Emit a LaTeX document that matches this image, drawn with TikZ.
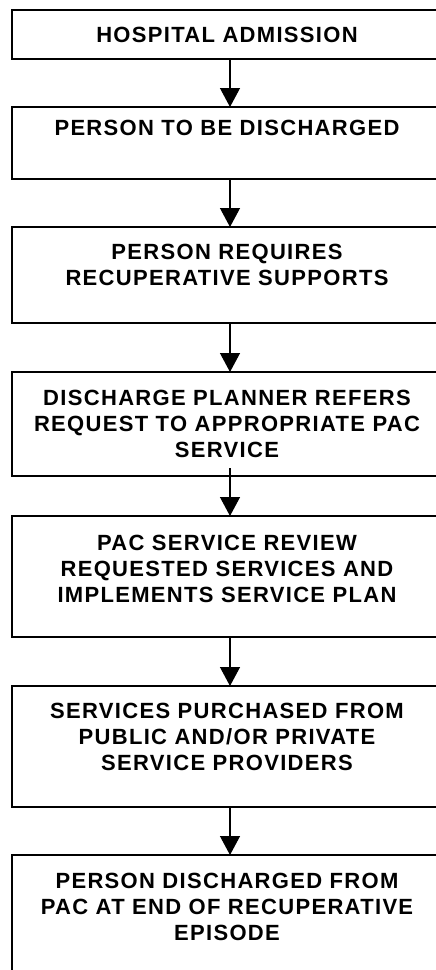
\documentclass[tikz,border=0pt]{standalone}
\usepackage{fontspec}
\setmainfont{Liberation Sans}[LetterSpace=6]
\usetikzlibrary{arrows.meta}
\tikzset{
  box/.style={draw=black, line width=1.6pt, minimum width=436pt, inner sep=0pt, outer sep=0pt},
  lbl/.style={anchor=north, inner sep=0pt, align=center, font=\bfseries\fontsize{22}{26}\selectfont},
  conn/.style={line width=1.3pt, -{Triangle[width=20pt,length=19pt]}, shorten >=0pt}
}
\begin{document}
\begin{tikzpicture}[x=1pt,y=-1pt]
\useasboundingbox (0,0) rectangle (436,970);
\clip (0,0) rectangle (436,970);
\node[box, minimum height=49pt]  (b1) at (230,34.5)  {};
\node[box, minimum height=72pt]  (b2) at (230,143)   {};
\node[box, minimum height=96pt]  (b3) at (230,275)   {};
\node[box, minimum height=104pt] (b4) at (230,424)   {};
\node[box, minimum height=121pt] (b5) at (230,576.5) {};
\node[box, minimum height=121pt] (b6) at (230,746.5) {};
\node[box, minimum height=145pt] (b7) at (230,927.5) {};
\node[lbl] (t1) at ([xshift=-3pt,yshift=-17pt]b1.north) {HOSPITAL ADMISSION};
\node[lbl] (t2) at ([xshift=-3pt,yshift=-13pt]b2.north) {PERSON TO BE DISCHARGED};
\node[lbl] (t3) at ([xshift=-3pt,yshift=-17pt]b3.north) {PERSON REQUIRES\\RECUPERATIVE SUPPORTS};
\node[lbl] (t4) at ([xshift=-3pt,yshift=-18pt]b4.north) {DISCHARGE PLANNER REFERS\\REQUEST TO APPROPRIATE PAC\\SERVICE};
\node[lbl] (t5) at ([xshift=-3pt,yshift=-19pt]b5.north) {PAC SERVICE REVIEW\\REQUESTED SERVICES AND\\IMPLEMENTS SERVICE PLAN};
\node[lbl] (t6) at ([xshift=-3pt,yshift=-17pt]b6.north) {SERVICES PURCHASED FROM\\PUBLIC AND/OR PRIVATE\\SERVICE PROVIDERS};
\node[lbl] (t7) at ([xshift=-3pt,yshift=-18pt]b7.north) {PERSON DISCHARGED FROM\\PAC AT END OF RECUPERATIVE\\EPISODE};
\draw[conn] (b1.south) -- (b2.north);
\draw[conn] (b2.south) -- (b3.north);
\draw[conn] (b3.south) -- (b4.north);
\draw[conn] ([yshift=8pt]b4.south) -- (b5.north);
\draw[conn] (b5.south) -- (b6.north);
\draw[conn] (b6.south) -- (b7.north);
\end{tikzpicture}
\end{document}
